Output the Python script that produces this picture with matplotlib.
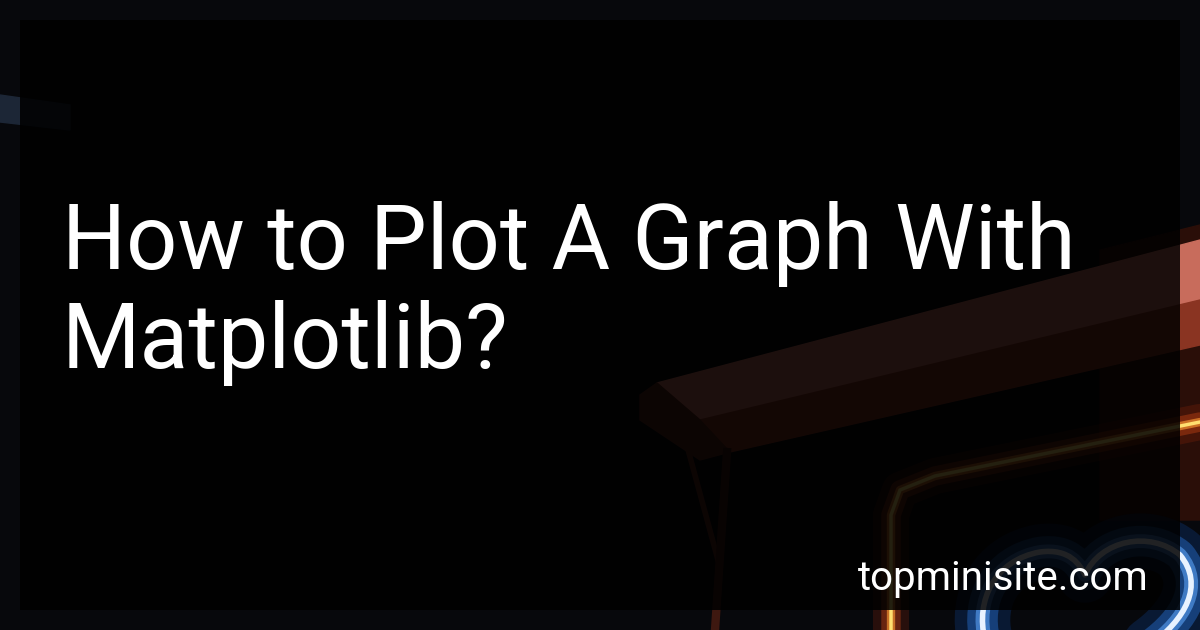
import matplotlib
matplotlib.use("Agg")
import matplotlib.pyplot as plt
from matplotlib.patches import Polygon, Rectangle, PathPatch
from matplotlib.path import Path

# ---- content ----
title_lines = ["How to Plot A Graph With", "Matplotlib?"]
site_label = "topminisite.com"

W, H = 1200, 630
fig = plt.figure(figsize=(12, 6.3), dpi=100)
ax = fig.add_axes([0, 0, 1, 1])
ax.set_xlim(0, W)
ax.set_ylim(H, 0)
ax.axis("off")
fig.patch.set_facecolor("#07080c")
ax.set_facecolor("#07080c")

# ---- background photo-like scene (decorative) ----
ax.add_patch(Rectangle((0, 0), W, H, color="#07080c", zorder=0))
# bluish smear top-left
ax.add_patch(Polygon([(0, 95), (70, 105), (70, 130), (0, 122)], color="#1c2636", zorder=1))
# warm haze right side
ax.add_patch(Polygon([(1100, 250), (1200, 225), (1200, 520), (1100, 520)], color="#2a0e08", zorder=1))
# beam top face
ax.add_patch(Polygon([(657, 383), (1200, 240), (1200, 300), (700, 420)], color="#c86c5c", zorder=2))
# beam front face
ax.add_patch(Polygon([(700, 420), (1200, 300), (1200, 345), (730, 452)], color="#8a3422", zorder=2))
# beam end face
ax.add_patch(Polygon([(640, 395), (657, 383), (700, 420), (730, 452), (700, 460), (640, 420)],
                     color="#5a241a", zorder=2))
# legs
ax.plot([680, 718], [420, 560], color="#5a241a", lw=4, zorder=2)
ax.plot([727, 715], [452, 630], color="#3e1810", lw=6, zorder=2)
# neon yellow/orange line with glow
nx = [891, 891, 900, 935, 1200]
ny = [630, 515, 490, 476, 422]
for lw, col, a in [(26, "#b0300c", 0.2), (14, "#e05018", 0.35), (6, "#f09030", 0.7), (2.5, "#ffe070", 1.0)]:
    ax.plot(nx, ny, color=col, lw=lw, alpha=a, solid_capstyle="round", solid_joinstyle="round", zorder=3)
# neon heart (blue)
verts = [(985, 640), (975, 600), (995, 560), (1040, 552),
         (1070, 548), (1080, 565), (1085, 575),
         (1100, 540), (1150, 530), (1180, 555),
         (1205, 585), (1185, 620), (1150, 645)]
codes = [Path.MOVETO] + [Path.CURVE4] * 12
heart = Path(verts, codes)
for lw, col, a in [(40, "#0c2a5a", 0.5), (22, "#1f5aa8", 0.6), (10, "#4a8ad8", 0.8), (4, "#e8f2ff", 1.0)]:
    ax.add_patch(PathPatch(heart, facecolor="none", edgecolor=col, lw=lw, alpha=a,
                           capstyle="round", joinstyle="round", zorder=3))

# ---- dark overlay panel ----
ax.add_patch(Rectangle((20, 20), 1160, 590, facecolor="black", alpha=0.86, lw=0, zorder=5))

# ---- text ----
ax.text(62, 269, title_lines[0], color="white", fontsize=64.7, family="Roboto",
        va="baseline", ha="left", zorder=6)
ax.text(62, 368, title_lines[1], color="white", fontsize=64.7, family="Roboto",
        va="baseline", ha="left", zorder=6)
ax.text(1149, 590, site_label, color="white", fontsize=29, family="Roboto",
        va="baseline", ha="right", zorder=6)

fig.savefig("out.png", dpi=100, facecolor=fig.get_facecolor())
